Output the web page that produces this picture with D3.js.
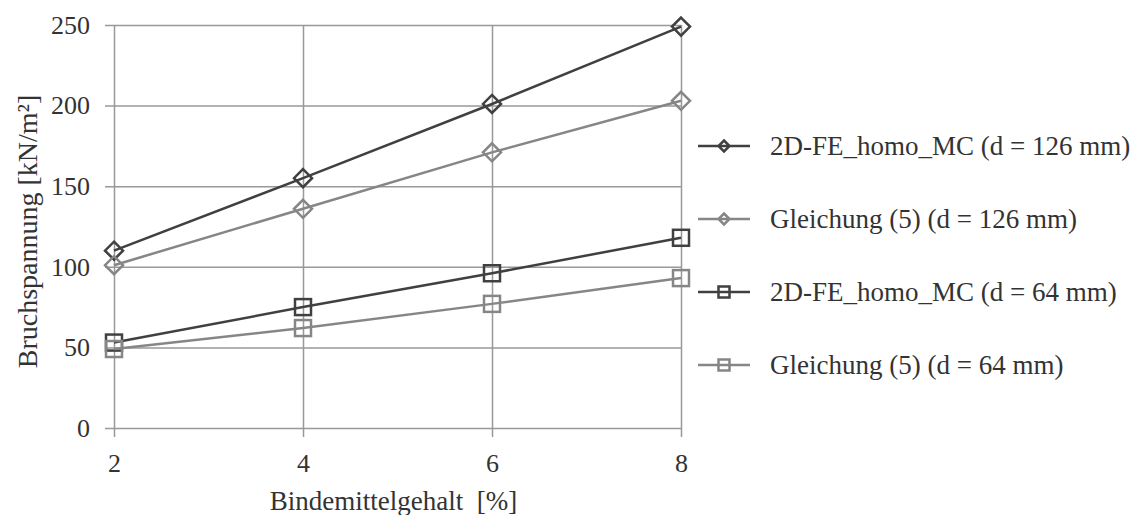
<!DOCTYPE html>
<html>
<head>
<meta charset="utf-8">
<script src="https://cdn.jsdelivr.net/npm/d3@7"></script>
<style>
  body { margin: 0; background: #fff; }
</style>
</head>
<body>
<div id="chart"></div>
<script>
const WIDTH = 1135, HEIGHT = 515;
const FONT = "'Liberation Serif'";

// data
const binder = [2, 4, 6, 8];
const fe126 = [110, 155, 201, 249];
const gl126 = [101, 136, 171, 203];
const fe64 = [53, 75, 96, 118];
const gl64 = [49, 62, 77, 93];
const yTicks = [0, 50, 100, 150, 200, 250];
const xTicks = [2, 4, 6, 8];
const seriesNames = [
  '2D-FE_homo_MC (d = 126 mm)',
  'Gleichung (5) (d = 126 mm)',
  '2D-FE_homo_MC (d = 64 mm)',
  'Gleichung (5) (d = 64 mm)'
];

const DARK = '#404040', GRAY = '#868686', GRID = '#999999';

const series = [
  { name: seriesNames[0], values: fe126, color: DARK, shape: 'diamond' },
  { name: seriesNames[1], values: gl126, color: GRAY, shape: 'diamond' },
  { name: seriesNames[2], values: fe64, color: DARK, shape: 'square' },
  { name: seriesNames[3], values: gl64, color: GRAY, shape: 'square' }
];

const x = d3.scaleLinear().domain([2, 8]).range([114, 681]);
const y = d3.scaleLinear().domain([0, 250]).range([428, 25]);

const svg = d3.select('#chart').append('svg')
  .attr('width', WIDTH)
  .attr('height', HEIGHT);

// horizontal grid + y ticks
let yAxis = d3.axisLeft(y)
  .tickValues(yTicks)
  .tickSize(-(x.range()[1] - x.range()[0]) - 9)
  .tickPadding(15)
  .tickFormat(d3.format('d'));

svg.append('g')
  .attr('class', 'y-axis')
  .attr('transform', `translate(${x.range()[0] - 9},0)`)
  .call(yAxis)
  .call(g => g.select('.domain').remove())
  .call(g => g.selectAll('.tick line').attr('stroke', GRID).attr('stroke-width', 1.5))
  .call(g => g.selectAll('.tick text')
    .style('font-family', FONT)
    .style('font-size', '26px')
    .attr('fill', '#333'));

// vertical grid + x ticks
let xAxis = d3.axisBottom(x)
  .tickValues(xTicks)
  .tickSize(-(y.range()[0] - y.range()[1]) - 9)
  .tickPadding(17)
  .tickFormat(d3.format('d'));

svg.append('g')
  .attr('class', 'x-axis')
  .attr('transform', `translate(0,${y.range()[0] + 9})`)
  .call(xAxis)
  .call(g => g.select('.domain').remove())
  .call(g => g.selectAll('.tick line').attr('stroke', GRID).attr('stroke-width', 1.5))
  .call(g => g.selectAll('.tick text')
    .style('font-family', FONT)
    .style('font-size', '26px')
    .attr('fill', '#333'));

// axis titles
svg.append('text')
  .attr('x', (x.range()[0] + x.range()[1]) / 2 - 4)
  .attr('y', 510)
  .attr('text-anchor', 'middle')
  .attr('fill', '#333')
  .style('font-family', FONT)
  .style('font-size', '27px')
  .style('white-space', 'pre')
  .text('Bindemittelgehalt  [%]');

svg.append('text')
  .attr('transform', `translate(37,${(y.range()[0] + y.range()[1]) / 2 + 5}) rotate(-90)`)
  .attr('text-anchor', 'middle')
  .attr('fill', '#333')
  .style('font-family', FONT)
  .style('font-size', '28px')
  .text('Bruchspannung [kN/m²]');

function marker(sel, shape, s) {
  if (shape === 'diamond') {
    sel.append('path')
      .attr('d', `M0,${-s}L${s},0L0,${s}L${-s},0Z`);
  } else {
    sel.append('rect')
      .attr('x', -s).attr('y', -s)
      .attr('width', 2 * s).attr('height', 2 * s);
  }
}

const line = d3.line()
  .x((d, i) => x(binder[i]))
  .y(d => y(d));

series.forEach(s => {
  let g = svg.append('g');
  g.append('path')
    .datum(s.values)
    .attr('d', line)
    .attr('fill', 'none')
    .attr('stroke', s.color)
    .attr('stroke-width', 2.5);

  g.selectAll('.pt')
    .data(s.values)
    .enter()
    .append('g')
    .attr('class', 'pt')
    .attr('transform', (d, i) => `translate(${x(binder[i])},${y(d)})`)
    .each(function () { marker(d3.select(this), s.shape, s.shape === 'diamond' ? 9 : 8); })
    .selectAll('path, rect')
    .attr('fill', 'none')
    .attr('stroke', s.color)
    .attr('stroke-width', 2.5);
});

// legend
const legend = svg.append('g')
  .attr('class', 'legend');

series.forEach((s, i) => {
  let ly = 146 + i * 73;
  let item = legend.append('g')
    .attr('transform', `translate(698,${ly})`);
  item.append('line')
    .attr('x1', 0).attr('x2', 52)
    .attr('stroke', s.color)
    .attr('stroke-width', 2.5);
  let m = item.append('g').attr('transform', 'translate(26,0)');
  marker(m, s.shape, 5.5);
  m.selectAll('path, rect')
    .attr('fill', 'none')
    .attr('stroke', s.color)
    .attr('stroke-width', 2.5);
  item.append('text')
    .attr('x', 72)
    .attr('dy', '0.35em')
    .attr('fill', '#333')
    .style('font-family', FONT)
    .style('font-size', '27px')
    .text(s.name);
});
</script>
</body>
</html>
